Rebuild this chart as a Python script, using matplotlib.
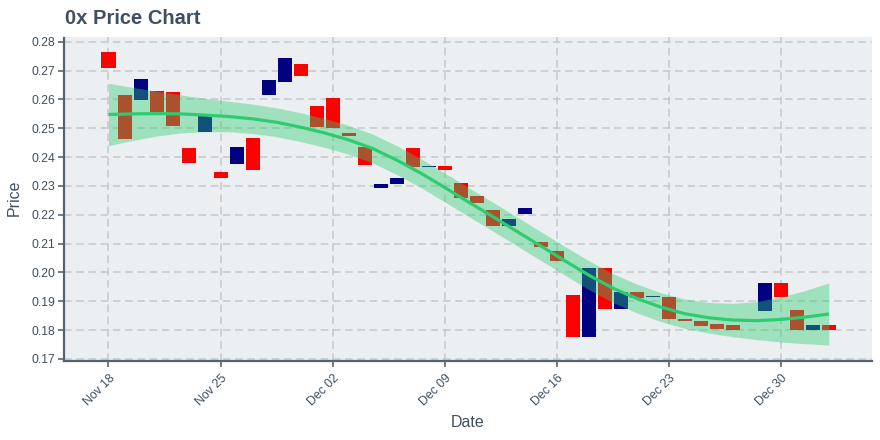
import matplotlib
matplotlib.use("Agg")
import matplotlib.pyplot as plt
import matplotlib.dates as mdates
import numpy as np
import pandas as pd

# ---- data ----
dates = ["2019-11-18", "2019-11-19", "2019-11-20", "2019-11-21", "2019-11-22", "2019-11-23",
         "2019-11-24", "2019-11-25", "2019-11-26", "2019-11-27", "2019-11-28", "2019-11-29",
         "2019-11-30", "2019-12-01", "2019-12-02", "2019-12-03", "2019-12-04", "2019-12-05",
         "2019-12-06", "2019-12-07", "2019-12-08", "2019-12-09", "2019-12-10", "2019-12-11",
         "2019-12-12", "2019-12-13", "2019-12-14", "2019-12-15", "2019-12-16", "2019-12-17",
         "2019-12-18", "2019-12-19", "2019-12-20", "2019-12-21", "2019-12-22", "2019-12-23",
         "2019-12-24", "2019-12-25", "2019-12-26", "2019-12-27", "2019-12-29", "2019-12-30",
         "2019-12-31", "2020-01-01", "2020-01-02"]
open_prices = [0.2764, 0.2615, 0.2599, 0.2629, 0.2625, 0.2431, 0.2487, 0.2347, 0.2376, 0.2465,
               0.2616, 0.2661, 0.2722, 0.2577, 0.2604, 0.2485, 0.2434, 0.2293, 0.2307, 0.2431,
               0.2366, 0.2368, 0.2309, 0.2266, 0.2215, 0.2161, 0.2202, 0.2104, 0.2076, 0.1923,
               0.1775, 0.2014, 0.1872, 0.1934, 0.1914, 0.1916, 0.1837, 0.1830, 0.1823, 0.1819,
               0.1867, 0.1965, 0.1871, 0.1802, 0.1819]
close_prices = [0.2709, 0.2463, 0.2670, 0.2556, 0.2507, 0.2380, 0.2542, 0.2328, 0.2434, 0.2355,
                0.2667, 0.2743, 0.2682, 0.2504, 0.2500, 0.2473, 0.2372, 0.2306, 0.2326, 0.2366,
                0.2370, 0.2355, 0.2260, 0.2241, 0.2161, 0.2187, 0.2222, 0.2088, 0.2039, 0.1775,
                0.2014, 0.1872, 0.1933, 0.1913, 0.1917, 0.1837, 0.1830, 0.1813, 0.1805, 0.1802,
                0.1965, 0.1916, 0.1802, 0.1819, 0.1802]

# trend line and its band, read every 1.5 days (offset in days from Nov 18)
trend_start = "2019-11-18"
trend_day = [0, 1.5, 3, 4.5, 6, 7.5, 9, 10.5, 12, 13.5, 15, 16.5, 18, 19.5, 21, 22.5,
             24, 25.5, 27, 28.5, 30, 31.5, 33, 34.5, 36, 37.5, 39, 40.5, 42, 43.5, 45]
trend_mid = [0.2548, 0.2550, 0.2551, 0.2550, 0.2546, 0.2541, 0.2533, 0.2521, 0.2504, 0.2484,
             0.2460, 0.2430, 0.2390, 0.2345, 0.2295, 0.2244, 0.2194, 0.2143, 0.2092, 0.2041,
             0.1991, 0.1946, 0.1910, 0.1880, 0.1857, 0.1843, 0.1835, 0.1833, 0.1837, 0.1845,
             0.1856]
trend_upper = [0.2656, 0.2642, 0.2629, 0.2616, 0.2604, 0.2594, 0.2584, 0.2571, 0.2554, 0.2534,
               0.2510, 0.2480, 0.2440, 0.2395, 0.2345, 0.2294, 0.2244, 0.2193, 0.2142, 0.2091,
               0.2041, 0.1996, 0.1960, 0.1930, 0.1908, 0.1896, 0.1893, 0.1899, 0.1915, 0.1937,
               0.1964]
trend_lower = [0.2440, 0.2458, 0.2473, 0.2484, 0.2488, 0.2488, 0.2482, 0.2471, 0.2454, 0.2434,
               0.2410, 0.2380, 0.2340, 0.2295, 0.2245, 0.2194, 0.2144, 0.2093, 0.2042, 0.1991,
               0.1941, 0.1896, 0.1860, 0.1830, 0.1806, 0.1790, 0.1777, 0.1767, 0.1759, 0.1753,
               0.1748]

title = "0x Price Chart"
x_title = "Date"
y_title = "Price"
y_ticks = [0.17, 0.18, 0.19, 0.20, 0.21, 0.22, 0.23, 0.24, 0.25, 0.26, 0.27, 0.28]
x_tick_dates = ["2019-11-18", "2019-11-25", "2019-12-02", "2019-12-09", "2019-12-16",
                "2019-12-23", "2019-12-30"]

# ---- styling ----
plt.rcParams['font.family'] = ['Liberation Sans', 'DejaVu Sans']
text_col = "#3f4f60"
axis_col = "#56636f"
bg_col = "#eceff1"
grid_col = "#c6c8ca"
up_col = "#000080"
down_col = "#ff0000"
trend_col = "#2ecc71"

fig = plt.figure(figsize=(8.8, 4.4), dpi=100)
fig.patch.set_facecolor("white")
ax = fig.add_axes([64 / 880, 1 - 361 / 440, (872 - 64) / 880, (361 - 37.5) / 440])
ax.set_facecolor(bg_col)

d = mdates.date2num(pd.to_datetime(dates))
o = np.array(open_prices)
c = np.array(close_prices)
cols = [up_col if cc >= oo else down_col for oo, cc in zip(o, c)]
bottoms = np.minimum(o, c)
heights = np.maximum(np.abs(c - o), 0.00035)
ax.bar(d, heights, bottom=bottoms, width=0.875, color=cols, linewidth=0, zorder=2)

td = mdates.date2num(pd.Timestamp(trend_start)) + np.array(trend_day)
ax.fill_between(td, trend_lower, trend_upper, color=trend_col, alpha=0.4, linewidth=0, zorder=3)
ax.plot(td, trend_mid, color=trend_col, lw=2.3, zorder=4, solid_capstyle='butt',
        solid_joinstyle='round')

x0 = mdates.date2num(pd.Timestamp("2019-11-18"))
ax.set_xlim(x0 - 2.78, x0 + 47.7)
ax.set_ylim(0.1693, 0.2815)

ax.set_yticks(y_ticks)
ax.set_yticklabels([f"{v:.2f}" for v in y_ticks])
xt = mdates.date2num(pd.to_datetime(x_tick_dates))
ax.set_xticks(xt)
ax.set_xticklabels([pd.Timestamp(s).strftime("%b %d") for s in x_tick_dates],
                   rotation=45, ha='right', rotation_mode='anchor')

ax.grid(True, color=grid_col, linestyle=(0, (5, 3)), linewidth=1.1)
ax.set_axisbelow(True)

for s in ['top', 'right']:
    ax.spines[s].set_visible(False)
for s in ['left', 'bottom']:
    ax.spines[s].set_color(axis_col)
    ax.spines[s].set_linewidth(1.6)

ax.tick_params(axis='both', colors=axis_col, length=4, width=1.2, labelsize=8.8,
               labelcolor=text_col, pad=2)
ax.tick_params(axis='x', pad=4)

ax.set_xlabel(x_title, fontsize=11.5, color=text_col, labelpad=6)
ax.set_ylabel(y_title, fontsize=11.5, color=text_col, labelpad=6)
ax.xaxis.set_label_coords((468 - 64) / (872 - 64), -(422 - 361) / (361 - 37.5))
ax.yaxis.set_label_coords(-(64 - 14) / (872 - 64), (361 - 198) / (361 - 37.5))
ax.xaxis.label.set_va('center')
ax.yaxis.label.set_va('center')

fig.text(65 / 880, 1 - 23.5 / 440, title, fontsize=14.5, fontweight='bold', color=text_col,
         ha='left', va='baseline')

fig.savefig("out.png", dpi=100, facecolor=fig.get_facecolor())
